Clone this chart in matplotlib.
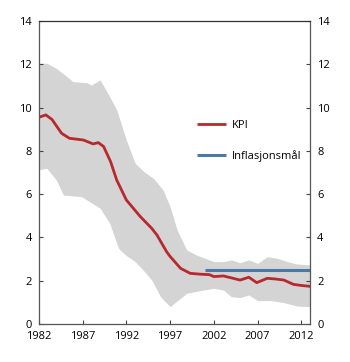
import numpy as np
import matplotlib.pyplot as plt

plt.rcParams['font.family'] = ['Open Sans', 'DejaVu Sans']

# KPI
kpi_years = [1982.0, 1982.8, 1983.5, 1984.6, 1985.5, 1987.1, 1988.2, 1988.8, 1989.4,
             1990.2, 1990.9, 1992.0, 1993.6, 1994.9, 1995.5, 1996.6, 1997.0, 1998.2,
             1999.3, 2000.5, 2001.5, 2002.0, 2003.1, 2004.0, 2005.0, 2006.0, 2006.9,
             2008.1, 2009.0, 2010.0, 2011.1, 2012.0, 2013.0]
kpi = [9.55, 9.66, 9.45, 8.81, 8.58, 8.5, 8.32, 8.38, 8.2,
       7.5, 6.65, 5.73, 4.96, 4.42, 4.11, 3.34, 3.12, 2.57,
       2.34, 2.3, 2.28, 2.19, 2.22, 2.13, 2.03, 2.16, 1.91,
       2.11, 2.08, 2.03, 1.83, 1.78, 1.74]

# Band (upper / lower)
band_up_years = [1982.0, 1982.9, 1984.0, 1985.2, 1985.9, 1987.5, 1988.0, 1989.0, 1990.1,
                 1990.9, 1992.0, 1993.0, 1994.0, 1995.1, 1996.2, 1997.0, 1997.8, 1998.9,
                 2000.0, 2002.0, 2003.1, 2004.0, 2005.0, 2006.0, 2007.0, 2008.1, 2009.2,
                 2010.4, 2011.5, 2013.0]
band_up = [12.05, 12.05, 11.81, 11.43, 11.2, 11.15, 11.04, 11.28, 10.5,
           9.89, 8.5, 7.43, 7.04, 6.73, 6.19, 5.42, 4.34, 3.42,
           3.19, 2.88, 2.88, 2.96, 2.83, 2.96, 2.8, 3.11, 3.04,
           2.88, 2.77, 2.73]
band_lo_years = [1982.0, 1982.9, 1984.0, 1984.8, 1986.9, 1989.0, 1990.1, 1991.1, 1991.9,
                 1993.0, 1993.9, 1994.9, 1995.9, 1997.0, 1998.9, 2000.8, 2002.0, 2003.1,
                 2004.0, 2005.0, 2006.0, 2007.0, 2008.5, 2010.0, 2011.5, 2013.0]
band_lo = [7.12, 7.2, 6.65, 5.96, 5.88, 5.35, 4.65, 3.5, 3.19,
           2.88, 2.5, 2.03, 1.26, 0.8, 1.42, 1.57, 1.65, 1.57,
           1.26, 1.22, 1.34, 1.08, 1.08, 0.99, 0.83, 0.8]

target_years = [2001, 2013]
target = [2.5, 2.5]

fig = plt.figure(figsize=(3.5, 3.62), dpi=100)
ax = fig.add_axes([0.111, 0.105, 0.775, 0.837])

# band on a common grid
grid = np.linspace(1982, 2013, 400)
up = np.interp(grid, band_up_years, band_up)
lo = np.interp(grid, band_lo_years, band_lo)
ax.fill_between(grid, lo, up, color='#d4d4d4', lw=0)

ax.plot(kpi_years, kpi, color='#b7292f', lw=2.0, label='KPI', solid_capstyle='butt',
        solid_joinstyle='round')
ax.plot(target_years, target, color='#4a78a8', lw=2.2, label='Inflasjonsmål',
        solid_capstyle='butt')

ax.set_xlim(1982, 2013)
ax.set_ylim(0, 14)
ax.set_xticks(range(1982, 2013, 5))
ax.set_yticks(range(0, 15, 2))

ax.tick_params(axis='both', labelsize=8, direction='in', length=3, color='#444444')
ax.tick_params(axis='x', pad=5)
ax.tick_params(axis='y', right=True, labelright=True, pad=5)
for s in ax.spines.values():
    s.set_color('#555555')
    s.set_linewidth(0.9)
ax.spines['top'].set_color('#333333')

ax.legend(loc='upper left', bbox_to_anchor=(0.545, 0.705), frameon=False,
          fontsize=8, handlelength=2.6, labelspacing=1.7, handletextpad=0.6)

fig.savefig('out.png', dpi=100)
